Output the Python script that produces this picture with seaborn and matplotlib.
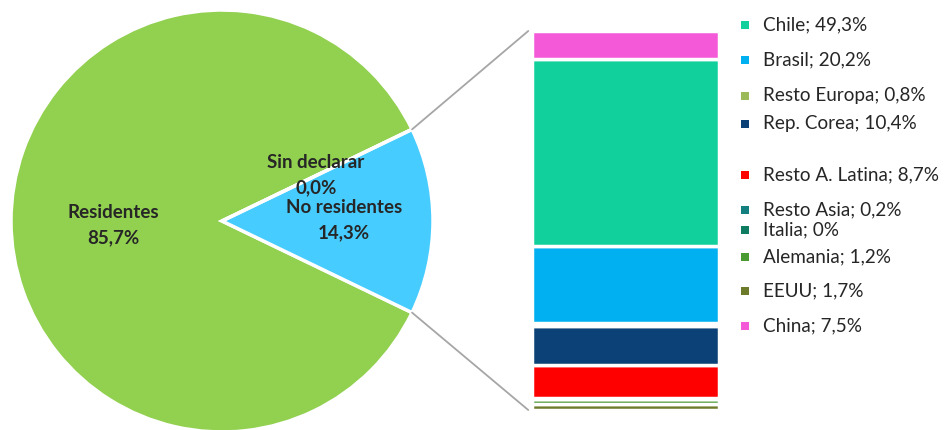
import matplotlib.pyplot as plt
import seaborn as sns
from matplotlib.patches import ConnectionPatch
import numpy as np

# Pie data
pie_labels = ["Residentes", "No residentes", "Sin declarar"]
pie_values = [85.7, 14.3, 0.0]
pie_colors = ["#92D050", "#47CCFF", "#FFC000"]

# Breakdown of "No residentes" (bottom to top in the bar)
countries = ["EEUU", "Alemania", "Italia", "Resto Asia", "Resto A. Latina",
             "Rep. Corea", "Resto Europa", "Brasil", "Chile", "China"]
shares = [1.7, 1.2, 0.0, 0.2, 8.7, 10.4, 0.8, 20.2, 49.3, 7.5]
share_text = ["1,7%", "1,2%", "0%", "0,2%", "8,7%", "10,4%", "0,8%", "20,2%", "49,3%", "7,5%"]
country_colors = ["#6B7B2A", "#4A9A32", "#0E7C61", "#137F7F", "#FF0000",
                  "#0B4177", "#9BBB59", "#00B0F0", "#12D09C", "#F45AD8"]

# order of the side labels, top to bottom
label_order = ["Chile", "Brasil", "Resto Europa", "Rep. Corea", "Resto A. Latina",
               "Resto Asia", "Italia", "Alemania", "EEUU", "China"]
label_y = [25, 60, 96, 124, 175, 210, 230, 257, 291, 326]

sns.set_theme(style="white")
plt.rcParams["font.family"] = ["Lato", "DejaVu Sans"]

W, H = 953, 430
fig = plt.figure(figsize=(W / 100, H / 100), dpi=100)

# pie axes: center (222, 221) px, radius 211 px
cx, cy, r = 222, 221, 211
ax_pie = fig.add_axes([(cx - r) / W, (H - cy - r) / H, 2 * r / W, 2 * r / H])
start = 360 * pie_values[1] / 100 / 2
ax_pie.pie(pie_values, colors=pie_colors, startangle=start, counterclock=True,
           radius=1, wedgeprops=dict(edgecolor="white", linewidth=2.5))
ax_pie.set_xlim(-1, 1)
ax_pie.set_ylim(-1, 1)
ax_pie.set_aspect("equal")
ax_pie.axis("off")

# stacked bar axes
bx0, bx1, by0, by1 = 532, 719, 31, 410
ax_bar = fig.add_axes([bx0 / W, (H - by1) / H, (bx1 - bx0) / W, (by1 - by0) / H])
bottom = 0
for val, col in zip(shares, country_colors):
    ax_bar.bar(0, val, bottom=bottom, width=1.0, color=col,
               edgecolor="white", linewidth=2.5)
    bottom += val
ax_bar.set_xlim(-0.5, 0.5)
ax_bar.set_ylim(0, sum(shares))
ax_bar.axis("off")

# connector lines from the pie slice to the bar
half = np.deg2rad(start)
for sgn, yb in [(1, sum(shares)), (-1, 0)]:
    con = ConnectionPatch(xyA=(np.cos(half), sgn * np.sin(half)), coordsA=ax_pie.transData,
                          xyB=(-0.52, yb), coordsB=ax_bar.transData,
                          color="#A6A6A6", linewidth=1.3)
    fig.add_artist(con)

# overlay axes in pixel coordinates for text
ov = fig.add_axes([0, 0, 1, 1])
ov.set_xlim(0, W)
ov.set_ylim(H, 0)
ov.axis("off")

ov.text(113, 225, "Residentes\n85,7%", ha="center", va="center",
        fontsize=13.5, fontweight="bold", linespacing=1.55)
ov.text(316, 175, "Sin declarar\n0,0%", ha="center", va="center",
        fontsize=13.5, fontweight="bold", linespacing=1.55)
ov.text(344, 220, "No residentes\n14,3%", ha="center", va="center",
        fontsize=13.5, fontweight="bold", linespacing=1.55)

for name, y in zip(label_order, label_y):
    i = countries.index(name)
    ov.scatter(745, y, marker="s", s=30, color=country_colors[i], linewidths=0)
    ov.text(763, y, f"{name}; {share_text[i]}", ha="left", va="center", fontsize=13.6)

fig.savefig("out.png", dpi=100)
